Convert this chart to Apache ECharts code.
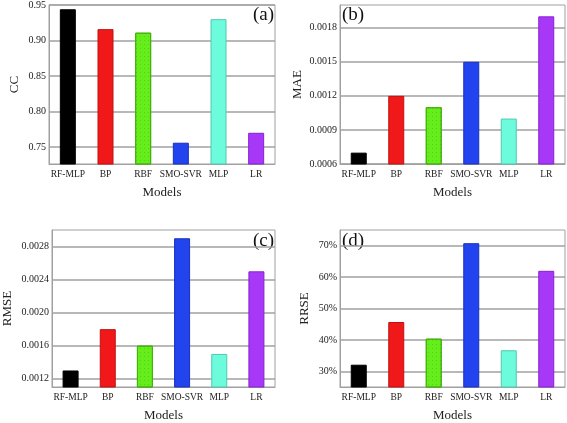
<!DOCTYPE html>
<html>
<head>
<meta charset="utf-8">
<script src="https://cdn.jsdelivr.net/npm/echarts@6/dist/echarts.min.js"></script>
<style>html,body{margin:0;padding:0;background:#fff}#c{width:567px;height:423px}</style>
</head>
<body>
<div id="c"></div>
<script>
const categories = ['RF-MLP', 'BP', 'RBF', 'SMO-SVR', 'MLP', 'LR'];
const ccValues = [0.944, 0.916, 0.911, 0.756, 0.930, 0.770];
const maeValues = [0.0007, 0.0012, 0.0011, 0.0015, 0.0010, 0.0019];
const rmseValues = [0.0013, 0.0018, 0.0016, 0.0029, 0.0015, 0.0025];
const rrseValues = [32.1, 45.7, 40.4, 70.8, 36.7, 62.0];
const ccTicks = [0.75, 0.80, 0.85, 0.90, 0.95];
const maeTicks = [0.0006, 0.0009, 0.0012, 0.0015, 0.0018];
const rmseTicks = [0.0012, 0.0016, 0.0020, 0.0024, 0.0028];
const rrseTicks = [30, 40, 50, 60, 70];

const barColors = ['#000000', '#f01818', '#66ee1c', '#2244ee', '#6cfcdc', '#a838f8'];
const barBorders = ['#000000', '#c01010', '#44b010', '#1830c0', '#50c8b0', '#8820d0'];
const FONT = '"Liberation Serif", "DejaVu Serif", serif';

const panels = [
  {name: 'CC', vals: ccValues, ticks: ccTicks, min: 0.726, max: 0.95, fmt: v => v.toFixed(2), grid: {left: 49, top: 5, width: 226, height: 159}, gap: 28, label: '(a)', lx: 263, ly: 17},
  {name: 'MAE', vals: maeValues, ticks: maeTicks, min: 0.0006, max: 0.002, fmt: v => v.toFixed(4), grid: {left: 340, top: 5, width: 225, height: 159}, gap: 36, label: '(b)', lx: 352, ly: 17},
  {name: 'RMSE', vals: rmseValues, ticks: rmseTicks, min: 0.0011, max: 0.003, fmt: v => v.toFixed(4), grid: {left: 49, top: 230, width: 226, height: 158}, gap: 38, label: '(c)', lx: 263, ly: 243},
  {name: 'RRSE', vals: rrseValues, ticks: rrseTicks, min: 25, max: 75, fmt: v => Math.round(v) + '%', grid: {left: 340, top: 230, width: 225, height: 158}, gap: 29, label: '(d)', lx: 352, ly: 243}
];

const option = {
  backgroundColor: '#fff',
  animation: false,
  grid: [], xAxis: [], yAxis: [], series: [], graphic: []
};

panels.forEach((p, i) => {
  option.grid.push(Object.assign({show: true, borderColor: '#a0a0a0', borderWidth: 1, containLabel: false}, p.grid));
  option.xAxis.push({
    type: 'category', gridIndex: i, data: categories,
    name: 'Models', nameLocation: 'middle', nameGap: 22,
    nameTextStyle: {fontFamily: FONT, fontSize: 13, color: '#222'},
    axisLine: {lineStyle: {color: '#a0a0a0'}},
    axisTick: {alignWithLabel: true, length: 3, lineStyle: {color: '#888'}},
    axisLabel: {fontFamily: FONT, fontSize: 9.5, color: '#222', interval: 0, margin: 5}
  });
  option.yAxis.push({
    type: 'value', gridIndex: i, min: p.min, max: p.max,
    name: p.name, nameLocation: 'middle', nameGap: p.gap, nameRotate: 90,
    nameTextStyle: {fontFamily: FONT, fontSize: 13, color: '#222'},
    axisLine: {show: true, lineStyle: {color: '#a0a0a0'}},
    axisTick: {show: false, customValues: p.ticks},
    splitLine: {show: true, lineStyle: {color: '#a0a0a0', width: 1.5}},
    axisLabel: {show: true, customValues: p.ticks, formatter: p.fmt, fontFamily: FONT, fontSize: 10, color: '#222', margin: 3}
  });
  option.series.push({
    type: 'bar', xAxisIndex: i, yAxisIndex: i, barWidth: 16,
    data: p.vals.map((v, j) => ({
      value: v,
      itemStyle: Object.assign({color: barColors[j], borderColor: barBorders[j], borderWidth: 1},
        j === 2 ? {decal: {symbol: 'rect', symbolSize: 1, dashArrayX: [1, 3], dashArrayY: [1, 3], color: 'rgba(30,130,0,0.25)'}} : {})
    }))
  });
  option.graphic.push({
    type: 'text', left: p.lx - 10, top: p.ly - 11,
    style: {text: p.label, font: '19px ' + FONT, fill: '#111'}
  });
});

const chart = echarts.init(document.getElementById('c'));
chart.setOption(option);
</script>
</body>
</html>
